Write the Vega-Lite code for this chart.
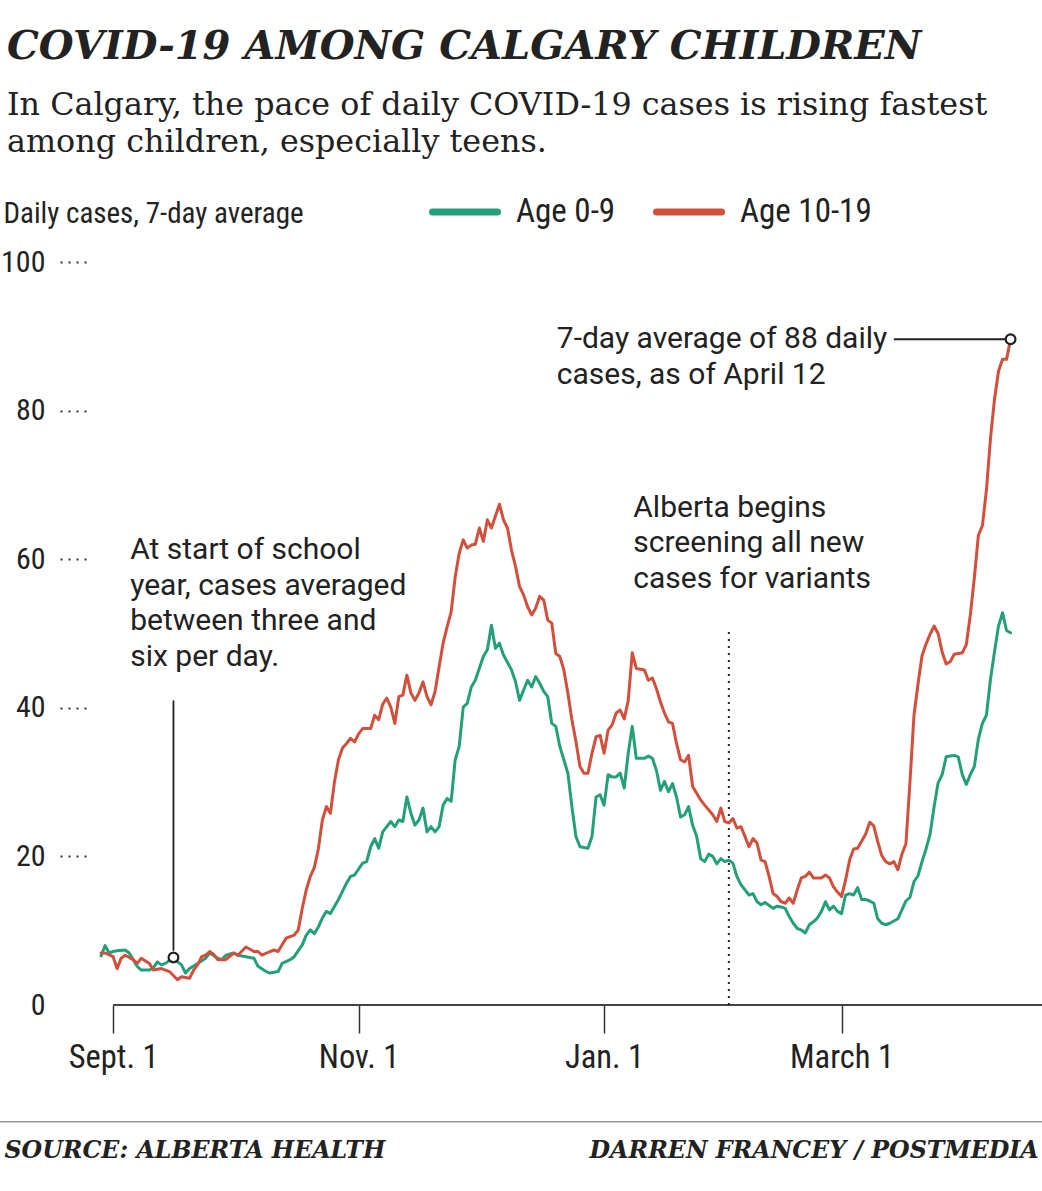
{
  "$schema": "https://vega.github.io/schema/vega-lite/v6.json",
  "autosize": "none",
  "padding": {"left": 97, "top": 262, "right": 0, "bottom": 186},
  "width": 945,
  "height": 743,
  "background": "white",
  "title": {
    "text": "COVID-19 AMONG CALGARY CHILDREN",
    "subtitle": ["In Calgary, the pace of daily COVID-19 cases is rising fastest", "among children, especially teens."],
    "anchor": "start",
    "frame": "group",
    "dx": -90,
    "offset": 17,
    "font": "DejaVu Serif",
    "fontStyle": "italic",
    "fontWeight": "bold",
    "fontSize": 40,
    "color": "#222222",
    "subtitleFont": "DejaVu Serif",
    "subtitleFontSize": 31.8,
    "subtitleColor": "#222222",
    "subtitleLineHeight": 37,
    "subtitlePadding": 23
  },
  "datasets": {
    "cases": [
      {"date": "2020-08-29", "group": "Age 0-9", "value": 6.6},
      {"date": "2020-08-30", "group": "Age 0-9", "value": 8.0},
      {"date": "2020-08-31", "group": "Age 0-9", "value": 7.0},
      {"date": "2020-09-01", "group": "Age 0-9", "value": 7.2},
      {"date": "2020-09-02", "group": "Age 0-9", "value": 7.3},
      {"date": "2020-09-04", "group": "Age 0-9", "value": 7.4},
      {"date": "2020-09-05", "group": "Age 0-9", "value": 7.0},
      {"date": "2020-09-07", "group": "Age 0-9", "value": 5.2},
      {"date": "2020-09-08", "group": "Age 0-9", "value": 4.7},
      {"date": "2020-09-10", "group": "Age 0-9", "value": 4.7},
      {"date": "2020-09-11", "group": "Age 0-9", "value": 5.0},
      {"date": "2020-09-12", "group": "Age 0-9", "value": 5.8},
      {"date": "2020-09-13", "group": "Age 0-9", "value": 5.4},
      {"date": "2020-09-14", "group": "Age 0-9", "value": 5.6},
      {"date": "2020-09-16", "group": "Age 0-9", "value": 6.4},
      {"date": "2020-09-17", "group": "Age 0-9", "value": 5.8},
      {"date": "2020-09-18", "group": "Age 0-9", "value": 5.4},
      {"date": "2020-09-19", "group": "Age 0-9", "value": 4.3},
      {"date": "2020-09-20", "group": "Age 0-9", "value": 4.9},
      {"date": "2020-09-22", "group": "Age 0-9", "value": 5.6},
      {"date": "2020-09-24", "group": "Age 0-9", "value": 6.3},
      {"date": "2020-09-25", "group": "Age 0-9", "value": 7.0},
      {"date": "2020-09-27", "group": "Age 0-9", "value": 6.3},
      {"date": "2020-09-28", "group": "Age 0-9", "value": 6.1},
      {"date": "2020-09-29", "group": "Age 0-9", "value": 6.7},
      {"date": "2020-10-01", "group": "Age 0-9", "value": 7.0},
      {"date": "2020-10-02", "group": "Age 0-9", "value": 6.7},
      {"date": "2020-10-04", "group": "Age 0-9", "value": 6.5},
      {"date": "2020-10-06", "group": "Age 0-9", "value": 6.3},
      {"date": "2020-10-07", "group": "Age 0-9", "value": 5.2},
      {"date": "2020-10-09", "group": "Age 0-9", "value": 4.5},
      {"date": "2020-10-10", "group": "Age 0-9", "value": 4.3},
      {"date": "2020-10-12", "group": "Age 0-9", "value": 4.5},
      {"date": "2020-10-13", "group": "Age 0-9", "value": 5.6},
      {"date": "2020-10-15", "group": "Age 0-9", "value": 6.1},
      {"date": "2020-10-16", "group": "Age 0-9", "value": 6.5},
      {"date": "2020-10-18", "group": "Age 0-9", "value": 8.1},
      {"date": "2020-10-19", "group": "Age 0-9", "value": 9.4},
      {"date": "2020-10-20", "group": "Age 0-9", "value": 10.1},
      {"date": "2020-10-21", "group": "Age 0-9", "value": 9.6},
      {"date": "2020-10-22", "group": "Age 0-9", "value": 10.5},
      {"date": "2020-10-23", "group": "Age 0-9", "value": 11.7},
      {"date": "2020-10-24", "group": "Age 0-9", "value": 12.6},
      {"date": "2020-10-25", "group": "Age 0-9", "value": 12.3},
      {"date": "2020-10-27", "group": "Age 0-9", "value": 14.2},
      {"date": "2020-10-28", "group": "Age 0-9", "value": 15.3},
      {"date": "2020-10-29", "group": "Age 0-9", "value": 16.4},
      {"date": "2020-10-30", "group": "Age 0-9", "value": 17.3},
      {"date": "2020-10-31", "group": "Age 0-9", "value": 17.5},
      {"date": "2020-11-02", "group": "Age 0-9", "value": 19.1},
      {"date": "2020-11-03", "group": "Age 0-9", "value": 19.3},
      {"date": "2020-11-04", "group": "Age 0-9", "value": 21.3},
      {"date": "2020-11-05", "group": "Age 0-9", "value": 22.4},
      {"date": "2020-11-06", "group": "Age 0-9", "value": 21.1},
      {"date": "2020-11-07", "group": "Age 0-9", "value": 23.3},
      {"date": "2020-11-09", "group": "Age 0-9", "value": 24.7},
      {"date": "2020-11-10", "group": "Age 0-9", "value": 24.0},
      {"date": "2020-11-11", "group": "Age 0-9", "value": 24.9},
      {"date": "2020-11-12", "group": "Age 0-9", "value": 24.7},
      {"date": "2020-11-13", "group": "Age 0-9", "value": 28.0},
      {"date": "2020-11-14", "group": "Age 0-9", "value": 25.8},
      {"date": "2020-11-15", "group": "Age 0-9", "value": 24.2},
      {"date": "2020-11-16", "group": "Age 0-9", "value": 24.9},
      {"date": "2020-11-17", "group": "Age 0-9", "value": 26.5},
      {"date": "2020-11-18", "group": "Age 0-9", "value": 23.3},
      {"date": "2020-11-19", "group": "Age 0-9", "value": 24.0},
      {"date": "2020-11-20", "group": "Age 0-9", "value": 23.3},
      {"date": "2020-11-21", "group": "Age 0-9", "value": 24.0},
      {"date": "2020-11-22", "group": "Age 0-9", "value": 26.9},
      {"date": "2020-11-23", "group": "Age 0-9", "value": 27.8},
      {"date": "2020-11-24", "group": "Age 0-9", "value": 27.4},
      {"date": "2020-11-25", "group": "Age 0-9", "value": 33.0},
      {"date": "2020-11-26", "group": "Age 0-9", "value": 34.8},
      {"date": "2020-11-27", "group": "Age 0-9", "value": 40.1},
      {"date": "2020-11-28", "group": "Age 0-9", "value": 40.6},
      {"date": "2020-11-29", "group": "Age 0-9", "value": 42.8},
      {"date": "2020-11-30", "group": "Age 0-9", "value": 43.7},
      {"date": "2020-12-02", "group": "Age 0-9", "value": 46.9},
      {"date": "2020-12-03", "group": "Age 0-9", "value": 47.8},
      {"date": "2020-12-04", "group": "Age 0-9", "value": 51.1},
      {"date": "2020-12-05", "group": "Age 0-9", "value": 48.0},
      {"date": "2020-12-06", "group": "Age 0-9", "value": 48.7},
      {"date": "2020-12-07", "group": "Age 0-9", "value": 47.1},
      {"date": "2020-12-09", "group": "Age 0-9", "value": 45.1},
      {"date": "2020-12-10", "group": "Age 0-9", "value": 43.5},
      {"date": "2020-12-11", "group": "Age 0-9", "value": 41.0},
      {"date": "2020-12-12", "group": "Age 0-9", "value": 42.4},
      {"date": "2020-12-13", "group": "Age 0-9", "value": 43.7},
      {"date": "2020-12-14", "group": "Age 0-9", "value": 42.8},
      {"date": "2020-12-15", "group": "Age 0-9", "value": 44.2},
      {"date": "2020-12-16", "group": "Age 0-9", "value": 43.3},
      {"date": "2020-12-17", "group": "Age 0-9", "value": 42.2},
      {"date": "2020-12-18", "group": "Age 0-9", "value": 41.5},
      {"date": "2020-12-19", "group": "Age 0-9", "value": 37.9},
      {"date": "2020-12-20", "group": "Age 0-9", "value": 37.5},
      {"date": "2020-12-21", "group": "Age 0-9", "value": 34.8},
      {"date": "2020-12-23", "group": "Age 0-9", "value": 31.2},
      {"date": "2020-12-24", "group": "Age 0-9", "value": 26.7},
      {"date": "2020-12-25", "group": "Age 0-9", "value": 22.7},
      {"date": "2020-12-26", "group": "Age 0-9", "value": 21.3},
      {"date": "2020-12-28", "group": "Age 0-9", "value": 21.1},
      {"date": "2020-12-29", "group": "Age 0-9", "value": 22.7},
      {"date": "2020-12-30", "group": "Age 0-9", "value": 28.0},
      {"date": "2020-12-31", "group": "Age 0-9", "value": 28.3},
      {"date": "2021-01-01", "group": "Age 0-9", "value": 26.9},
      {"date": "2021-01-02", "group": "Age 0-9", "value": 31.0},
      {"date": "2021-01-03", "group": "Age 0-9", "value": 30.7},
      {"date": "2021-01-04", "group": "Age 0-9", "value": 30.7},
      {"date": "2021-01-05", "group": "Age 0-9", "value": 31.2},
      {"date": "2021-01-06", "group": "Age 0-9", "value": 29.2},
      {"date": "2021-01-07", "group": "Age 0-9", "value": 33.9},
      {"date": "2021-01-08", "group": "Age 0-9", "value": 37.5},
      {"date": "2021-01-09", "group": "Age 0-9", "value": 33.2},
      {"date": "2021-01-11", "group": "Age 0-9", "value": 33.2},
      {"date": "2021-01-12", "group": "Age 0-9", "value": 33.5},
      {"date": "2021-01-13", "group": "Age 0-9", "value": 33.2},
      {"date": "2021-01-14", "group": "Age 0-9", "value": 31.6},
      {"date": "2021-01-15", "group": "Age 0-9", "value": 28.9},
      {"date": "2021-01-16", "group": "Age 0-9", "value": 30.1},
      {"date": "2021-01-17", "group": "Age 0-9", "value": 28.7},
      {"date": "2021-01-18", "group": "Age 0-9", "value": 29.8},
      {"date": "2021-01-19", "group": "Age 0-9", "value": 28.0},
      {"date": "2021-01-20", "group": "Age 0-9", "value": 25.3},
      {"date": "2021-01-21", "group": "Age 0-9", "value": 25.6},
      {"date": "2021-01-22", "group": "Age 0-9", "value": 26.7},
      {"date": "2021-01-23", "group": "Age 0-9", "value": 24.2},
      {"date": "2021-01-24", "group": "Age 0-9", "value": 22.7},
      {"date": "2021-01-25", "group": "Age 0-9", "value": 19.7},
      {"date": "2021-01-26", "group": "Age 0-9", "value": 19.3},
      {"date": "2021-01-27", "group": "Age 0-9", "value": 20.3},
      {"date": "2021-01-28", "group": "Age 0-9", "value": 20.0},
      {"date": "2021-01-29", "group": "Age 0-9", "value": 19.0},
      {"date": "2021-01-30", "group": "Age 0-9", "value": 19.7},
      {"date": "2021-01-31", "group": "Age 0-9", "value": 19.3},
      {"date": "2021-02-01", "group": "Age 0-9", "value": 19.5},
      {"date": "2021-02-02", "group": "Age 0-9", "value": 19.1},
      {"date": "2021-02-03", "group": "Age 0-9", "value": 17.3},
      {"date": "2021-02-04", "group": "Age 0-9", "value": 16.2},
      {"date": "2021-02-06", "group": "Age 0-9", "value": 14.8},
      {"date": "2021-02-07", "group": "Age 0-9", "value": 15.0},
      {"date": "2021-02-08", "group": "Age 0-9", "value": 13.9},
      {"date": "2021-02-09", "group": "Age 0-9", "value": 13.5},
      {"date": "2021-02-10", "group": "Age 0-9", "value": 13.8},
      {"date": "2021-02-12", "group": "Age 0-9", "value": 13.0},
      {"date": "2021-02-13", "group": "Age 0-9", "value": 13.3},
      {"date": "2021-02-14", "group": "Age 0-9", "value": 13.2},
      {"date": "2021-02-15", "group": "Age 0-9", "value": 13.0},
      {"date": "2021-02-16", "group": "Age 0-9", "value": 11.9},
      {"date": "2021-02-17", "group": "Age 0-9", "value": 11.0},
      {"date": "2021-02-18", "group": "Age 0-9", "value": 10.3},
      {"date": "2021-02-19", "group": "Age 0-9", "value": 10.1},
      {"date": "2021-02-20", "group": "Age 0-9", "value": 9.7},
      {"date": "2021-02-21", "group": "Age 0-9", "value": 10.8},
      {"date": "2021-02-22", "group": "Age 0-9", "value": 11.2},
      {"date": "2021-02-23", "group": "Age 0-9", "value": 11.7},
      {"date": "2021-02-24", "group": "Age 0-9", "value": 12.6},
      {"date": "2021-02-25", "group": "Age 0-9", "value": 13.9},
      {"date": "2021-02-26", "group": "Age 0-9", "value": 12.8},
      {"date": "2021-02-27", "group": "Age 0-9", "value": 13.3},
      {"date": "2021-02-28", "group": "Age 0-9", "value": 12.6},
      {"date": "2021-03-01", "group": "Age 0-9", "value": 12.3},
      {"date": "2021-03-02", "group": "Age 0-9", "value": 14.8},
      {"date": "2021-03-03", "group": "Age 0-9", "value": 15.0},
      {"date": "2021-03-04", "group": "Age 0-9", "value": 14.8},
      {"date": "2021-03-05", "group": "Age 0-9", "value": 15.8},
      {"date": "2021-03-06", "group": "Age 0-9", "value": 14.2},
      {"date": "2021-03-07", "group": "Age 0-9", "value": 14.2},
      {"date": "2021-03-08", "group": "Age 0-9", "value": 14.0},
      {"date": "2021-03-09", "group": "Age 0-9", "value": 13.7},
      {"date": "2021-03-10", "group": "Age 0-9", "value": 11.6},
      {"date": "2021-03-11", "group": "Age 0-9", "value": 11.0},
      {"date": "2021-03-12", "group": "Age 0-9", "value": 10.8},
      {"date": "2021-03-13", "group": "Age 0-9", "value": 11.0},
      {"date": "2021-03-14", "group": "Age 0-9", "value": 11.3},
      {"date": "2021-03-15", "group": "Age 0-9", "value": 11.6},
      {"date": "2021-03-17", "group": "Age 0-9", "value": 14.0},
      {"date": "2021-03-18", "group": "Age 0-9", "value": 14.5},
      {"date": "2021-03-19", "group": "Age 0-9", "value": 16.6},
      {"date": "2021-03-20", "group": "Age 0-9", "value": 17.4},
      {"date": "2021-03-21", "group": "Age 0-9", "value": 19.3},
      {"date": "2021-03-22", "group": "Age 0-9", "value": 21.0},
      {"date": "2021-03-23", "group": "Age 0-9", "value": 23.0},
      {"date": "2021-03-24", "group": "Age 0-9", "value": 26.7},
      {"date": "2021-03-25", "group": "Age 0-9", "value": 29.9},
      {"date": "2021-03-26", "group": "Age 0-9", "value": 31.0},
      {"date": "2021-03-27", "group": "Age 0-9", "value": 33.4},
      {"date": "2021-03-28", "group": "Age 0-9", "value": 33.5},
      {"date": "2021-03-29", "group": "Age 0-9", "value": 33.6},
      {"date": "2021-03-30", "group": "Age 0-9", "value": 33.4},
      {"date": "2021-03-31", "group": "Age 0-9", "value": 31.0},
      {"date": "2021-04-01", "group": "Age 0-9", "value": 29.7},
      {"date": "2021-04-02", "group": "Age 0-9", "value": 31.0},
      {"date": "2021-04-03", "group": "Age 0-9", "value": 32.1},
      {"date": "2021-04-04", "group": "Age 0-9", "value": 35.8},
      {"date": "2021-04-05", "group": "Age 0-9", "value": 37.9},
      {"date": "2021-04-06", "group": "Age 0-9", "value": 39.0},
      {"date": "2021-04-07", "group": "Age 0-9", "value": 43.8},
      {"date": "2021-04-08", "group": "Age 0-9", "value": 47.5},
      {"date": "2021-04-09", "group": "Age 0-9", "value": 51.0},
      {"date": "2021-04-10", "group": "Age 0-9", "value": 52.8},
      {"date": "2021-04-11", "group": "Age 0-9", "value": 50.4},
      {"date": "2021-04-12", "group": "Age 0-9", "value": 50.1},

      {"date": "2020-08-29", "group": "Age 10-19", "value": 7.0},
      {"date": "2020-08-30", "group": "Age 10-19", "value": 7.0},
      {"date": "2020-09-01", "group": "Age 10-19", "value": 6.5},
      {"date": "2020-09-02", "group": "Age 10-19", "value": 4.9},
      {"date": "2020-09-03", "group": "Age 10-19", "value": 6.3},
      {"date": "2020-09-04", "group": "Age 10-19", "value": 6.7},
      {"date": "2020-09-06", "group": "Age 10-19", "value": 6.1},
      {"date": "2020-09-07", "group": "Age 10-19", "value": 5.6},
      {"date": "2020-09-08", "group": "Age 10-19", "value": 6.3},
      {"date": "2020-09-10", "group": "Age 10-19", "value": 5.6},
      {"date": "2020-09-11", "group": "Age 10-19", "value": 4.7},
      {"date": "2020-09-13", "group": "Age 10-19", "value": 4.9},
      {"date": "2020-09-15", "group": "Age 10-19", "value": 4.5},
      {"date": "2020-09-17", "group": "Age 10-19", "value": 3.4},
      {"date": "2020-09-18", "group": "Age 10-19", "value": 3.8},
      {"date": "2020-09-20", "group": "Age 10-19", "value": 3.6},
      {"date": "2020-09-21", "group": "Age 10-19", "value": 4.7},
      {"date": "2020-09-22", "group": "Age 10-19", "value": 5.4},
      {"date": "2020-09-23", "group": "Age 10-19", "value": 6.5},
      {"date": "2020-09-24", "group": "Age 10-19", "value": 6.7},
      {"date": "2020-09-25", "group": "Age 10-19", "value": 7.2},
      {"date": "2020-09-26", "group": "Age 10-19", "value": 6.8},
      {"date": "2020-09-27", "group": "Age 10-19", "value": 6.1},
      {"date": "2020-09-29", "group": "Age 10-19", "value": 6.1},
      {"date": "2020-10-01", "group": "Age 10-19", "value": 7.0},
      {"date": "2020-10-02", "group": "Age 10-19", "value": 6.7},
      {"date": "2020-10-04", "group": "Age 10-19", "value": 7.8},
      {"date": "2020-10-06", "group": "Age 10-19", "value": 7.2},
      {"date": "2020-10-07", "group": "Age 10-19", "value": 7.2},
      {"date": "2020-10-08", "group": "Age 10-19", "value": 6.7},
      {"date": "2020-10-10", "group": "Age 10-19", "value": 7.2},
      {"date": "2020-10-11", "group": "Age 10-19", "value": 7.4},
      {"date": "2020-10-12", "group": "Age 10-19", "value": 7.2},
      {"date": "2020-10-13", "group": "Age 10-19", "value": 8.1},
      {"date": "2020-10-14", "group": "Age 10-19", "value": 9.0},
      {"date": "2020-10-16", "group": "Age 10-19", "value": 9.4},
      {"date": "2020-10-17", "group": "Age 10-19", "value": 10.1},
      {"date": "2020-10-18", "group": "Age 10-19", "value": 13.0},
      {"date": "2020-10-19", "group": "Age 10-19", "value": 15.5},
      {"date": "2020-10-20", "group": "Age 10-19", "value": 17.3},
      {"date": "2020-10-21", "group": "Age 10-19", "value": 18.5},
      {"date": "2020-10-22", "group": "Age 10-19", "value": 21.0},
      {"date": "2020-10-23", "group": "Age 10-19", "value": 24.9},
      {"date": "2020-10-24", "group": "Age 10-19", "value": 26.7},
      {"date": "2020-10-25", "group": "Age 10-19", "value": 25.8},
      {"date": "2020-10-26", "group": "Age 10-19", "value": 30.0},
      {"date": "2020-10-27", "group": "Age 10-19", "value": 33.0},
      {"date": "2020-10-28", "group": "Age 10-19", "value": 34.6},
      {"date": "2020-10-29", "group": "Age 10-19", "value": 35.2},
      {"date": "2020-10-30", "group": "Age 10-19", "value": 35.9},
      {"date": "2020-10-31", "group": "Age 10-19", "value": 35.4},
      {"date": "2020-11-01", "group": "Age 10-19", "value": 36.5},
      {"date": "2020-11-02", "group": "Age 10-19", "value": 37.2},
      {"date": "2020-11-03", "group": "Age 10-19", "value": 37.2},
      {"date": "2020-11-04", "group": "Age 10-19", "value": 37.2},
      {"date": "2020-11-05", "group": "Age 10-19", "value": 39.0},
      {"date": "2020-11-06", "group": "Age 10-19", "value": 38.4},
      {"date": "2020-11-07", "group": "Age 10-19", "value": 40.5},
      {"date": "2020-11-08", "group": "Age 10-19", "value": 41.3},
      {"date": "2020-11-09", "group": "Age 10-19", "value": 40.1},
      {"date": "2020-11-10", "group": "Age 10-19", "value": 37.9},
      {"date": "2020-11-11", "group": "Age 10-19", "value": 41.5},
      {"date": "2020-11-12", "group": "Age 10-19", "value": 41.7},
      {"date": "2020-11-13", "group": "Age 10-19", "value": 44.4},
      {"date": "2020-11-14", "group": "Age 10-19", "value": 42.0},
      {"date": "2020-11-15", "group": "Age 10-19", "value": 41.0},
      {"date": "2020-11-16", "group": "Age 10-19", "value": 42.0},
      {"date": "2020-11-17", "group": "Age 10-19", "value": 43.5},
      {"date": "2020-11-18", "group": "Age 10-19", "value": 41.5},
      {"date": "2020-11-19", "group": "Age 10-19", "value": 40.4},
      {"date": "2020-11-20", "group": "Age 10-19", "value": 42.2},
      {"date": "2020-11-21", "group": "Age 10-19", "value": 45.5},
      {"date": "2020-11-22", "group": "Age 10-19", "value": 48.7},
      {"date": "2020-11-23", "group": "Age 10-19", "value": 50.9},
      {"date": "2020-11-24", "group": "Age 10-19", "value": 52.9},
      {"date": "2020-11-25", "group": "Age 10-19", "value": 57.6},
      {"date": "2020-11-26", "group": "Age 10-19", "value": 60.8},
      {"date": "2020-11-27", "group": "Age 10-19", "value": 62.6},
      {"date": "2020-11-28", "group": "Age 10-19", "value": 61.5},
      {"date": "2020-11-29", "group": "Age 10-19", "value": 61.9},
      {"date": "2020-11-30", "group": "Age 10-19", "value": 62.0},
      {"date": "2020-12-01", "group": "Age 10-19", "value": 64.2},
      {"date": "2020-12-02", "group": "Age 10-19", "value": 62.4},
      {"date": "2020-12-03", "group": "Age 10-19", "value": 65.3},
      {"date": "2020-12-04", "group": "Age 10-19", "value": 64.2},
      {"date": "2020-12-06", "group": "Age 10-19", "value": 67.4},
      {"date": "2020-12-07", "group": "Age 10-19", "value": 65.3},
      {"date": "2020-12-08", "group": "Age 10-19", "value": 64.2},
      {"date": "2020-12-09", "group": "Age 10-19", "value": 61.2},
      {"date": "2020-12-10", "group": "Age 10-19", "value": 59.0},
      {"date": "2020-12-11", "group": "Age 10-19", "value": 56.3},
      {"date": "2020-12-12", "group": "Age 10-19", "value": 55.2},
      {"date": "2020-12-13", "group": "Age 10-19", "value": 53.6},
      {"date": "2020-12-14", "group": "Age 10-19", "value": 52.5},
      {"date": "2020-12-15", "group": "Age 10-19", "value": 53.4},
      {"date": "2020-12-16", "group": "Age 10-19", "value": 55.0},
      {"date": "2020-12-17", "group": "Age 10-19", "value": 54.5},
      {"date": "2020-12-18", "group": "Age 10-19", "value": 51.8},
      {"date": "2020-12-19", "group": "Age 10-19", "value": 51.4},
      {"date": "2020-12-20", "group": "Age 10-19", "value": 47.3},
      {"date": "2020-12-21", "group": "Age 10-19", "value": 46.9},
      {"date": "2020-12-22", "group": "Age 10-19", "value": 45.1},
      {"date": "2020-12-23", "group": "Age 10-19", "value": 42.0},
      {"date": "2020-12-24", "group": "Age 10-19", "value": 38.4},
      {"date": "2020-12-25", "group": "Age 10-19", "value": 35.5},
      {"date": "2020-12-26", "group": "Age 10-19", "value": 32.1},
      {"date": "2020-12-27", "group": "Age 10-19", "value": 31.2},
      {"date": "2020-12-28", "group": "Age 10-19", "value": 31.2},
      {"date": "2020-12-29", "group": "Age 10-19", "value": 33.9},
      {"date": "2020-12-30", "group": "Age 10-19", "value": 36.1},
      {"date": "2020-12-31", "group": "Age 10-19", "value": 36.3},
      {"date": "2021-01-01", "group": "Age 10-19", "value": 33.9},
      {"date": "2021-01-02", "group": "Age 10-19", "value": 37.0},
      {"date": "2021-01-03", "group": "Age 10-19", "value": 37.7},
      {"date": "2021-01-04", "group": "Age 10-19", "value": 39.3},
      {"date": "2021-01-05", "group": "Age 10-19", "value": 39.7},
      {"date": "2021-01-06", "group": "Age 10-19", "value": 38.5},
      {"date": "2021-01-07", "group": "Age 10-19", "value": 41.0},
      {"date": "2021-01-08", "group": "Age 10-19", "value": 47.4},
      {"date": "2021-01-09", "group": "Age 10-19", "value": 45.3},
      {"date": "2021-01-10", "group": "Age 10-19", "value": 45.2},
      {"date": "2021-01-11", "group": "Age 10-19", "value": 45.1},
      {"date": "2021-01-12", "group": "Age 10-19", "value": 43.7},
      {"date": "2021-01-13", "group": "Age 10-19", "value": 44.0},
      {"date": "2021-01-14", "group": "Age 10-19", "value": 42.6},
      {"date": "2021-01-15", "group": "Age 10-19", "value": 40.8},
      {"date": "2021-01-16", "group": "Age 10-19", "value": 39.3},
      {"date": "2021-01-17", "group": "Age 10-19", "value": 38.1},
      {"date": "2021-01-18", "group": "Age 10-19", "value": 37.9},
      {"date": "2021-01-19", "group": "Age 10-19", "value": 35.2},
      {"date": "2021-01-20", "group": "Age 10-19", "value": 33.0},
      {"date": "2021-01-21", "group": "Age 10-19", "value": 32.7},
      {"date": "2021-01-22", "group": "Age 10-19", "value": 33.6},
      {"date": "2021-01-23", "group": "Age 10-19", "value": 29.4},
      {"date": "2021-01-24", "group": "Age 10-19", "value": 28.5},
      {"date": "2021-01-25", "group": "Age 10-19", "value": 27.6},
      {"date": "2021-01-26", "group": "Age 10-19", "value": 26.9},
      {"date": "2021-01-28", "group": "Age 10-19", "value": 25.6},
      {"date": "2021-01-29", "group": "Age 10-19", "value": 24.7},
      {"date": "2021-01-30", "group": "Age 10-19", "value": 26.5},
      {"date": "2021-01-31", "group": "Age 10-19", "value": 24.7},
      {"date": "2021-02-01", "group": "Age 10-19", "value": 24.5},
      {"date": "2021-02-02", "group": "Age 10-19", "value": 25.1},
      {"date": "2021-02-03", "group": "Age 10-19", "value": 23.8},
      {"date": "2021-02-04", "group": "Age 10-19", "value": 24.0},
      {"date": "2021-02-05", "group": "Age 10-19", "value": 22.7},
      {"date": "2021-02-06", "group": "Age 10-19", "value": 21.3},
      {"date": "2021-02-07", "group": "Age 10-19", "value": 22.4},
      {"date": "2021-02-08", "group": "Age 10-19", "value": 21.8},
      {"date": "2021-02-09", "group": "Age 10-19", "value": 19.5},
      {"date": "2021-02-10", "group": "Age 10-19", "value": 19.3},
      {"date": "2021-02-11", "group": "Age 10-19", "value": 17.3},
      {"date": "2021-02-12", "group": "Age 10-19", "value": 15.0},
      {"date": "2021-02-13", "group": "Age 10-19", "value": 14.6},
      {"date": "2021-02-14", "group": "Age 10-19", "value": 13.9},
      {"date": "2021-02-15", "group": "Age 10-19", "value": 13.7},
      {"date": "2021-02-16", "group": "Age 10-19", "value": 14.4},
      {"date": "2021-02-17", "group": "Age 10-19", "value": 13.7},
      {"date": "2021-02-18", "group": "Age 10-19", "value": 15.5},
      {"date": "2021-02-19", "group": "Age 10-19", "value": 17.1},
      {"date": "2021-02-20", "group": "Age 10-19", "value": 17.3},
      {"date": "2021-02-21", "group": "Age 10-19", "value": 17.9},
      {"date": "2021-02-22", "group": "Age 10-19", "value": 17.1},
      {"date": "2021-02-24", "group": "Age 10-19", "value": 17.1},
      {"date": "2021-02-25", "group": "Age 10-19", "value": 17.5},
      {"date": "2021-02-26", "group": "Age 10-19", "value": 17.1},
      {"date": "2021-02-27", "group": "Age 10-19", "value": 15.9},
      {"date": "2021-02-28", "group": "Age 10-19", "value": 15.2},
      {"date": "2021-03-01", "group": "Age 10-19", "value": 14.6},
      {"date": "2021-03-02", "group": "Age 10-19", "value": 16.8},
      {"date": "2021-03-03", "group": "Age 10-19", "value": 19.5},
      {"date": "2021-03-04", "group": "Age 10-19", "value": 21.0},
      {"date": "2021-03-05", "group": "Age 10-19", "value": 21.1},
      {"date": "2021-03-07", "group": "Age 10-19", "value": 23.0},
      {"date": "2021-03-08", "group": "Age 10-19", "value": 24.6},
      {"date": "2021-03-09", "group": "Age 10-19", "value": 24.1},
      {"date": "2021-03-10", "group": "Age 10-19", "value": 22.0},
      {"date": "2021-03-11", "group": "Age 10-19", "value": 20.1},
      {"date": "2021-03-12", "group": "Age 10-19", "value": 19.3},
      {"date": "2021-03-13", "group": "Age 10-19", "value": 19.0},
      {"date": "2021-03-14", "group": "Age 10-19", "value": 19.3},
      {"date": "2021-03-15", "group": "Age 10-19", "value": 18.2},
      {"date": "2021-03-16", "group": "Age 10-19", "value": 20.3},
      {"date": "2021-03-17", "group": "Age 10-19", "value": 21.7},
      {"date": "2021-03-18", "group": "Age 10-19", "value": 30.0},
      {"date": "2021-03-19", "group": "Age 10-19", "value": 39.0},
      {"date": "2021-03-20", "group": "Age 10-19", "value": 43.2},
      {"date": "2021-03-21", "group": "Age 10-19", "value": 47.0},
      {"date": "2021-03-22", "group": "Age 10-19", "value": 48.6},
      {"date": "2021-03-23", "group": "Age 10-19", "value": 49.9},
      {"date": "2021-03-24", "group": "Age 10-19", "value": 51.0},
      {"date": "2021-03-25", "group": "Age 10-19", "value": 50.0},
      {"date": "2021-03-26", "group": "Age 10-19", "value": 47.5},
      {"date": "2021-03-27", "group": "Age 10-19", "value": 45.9},
      {"date": "2021-03-28", "group": "Age 10-19", "value": 46.2},
      {"date": "2021-03-29", "group": "Age 10-19", "value": 47.2},
      {"date": "2021-03-30", "group": "Age 10-19", "value": 47.3},
      {"date": "2021-03-31", "group": "Age 10-19", "value": 47.4},
      {"date": "2021-04-01", "group": "Age 10-19", "value": 48.5},
      {"date": "2021-04-02", "group": "Age 10-19", "value": 52.5},
      {"date": "2021-04-03", "group": "Age 10-19", "value": 57.5},
      {"date": "2021-04-04", "group": "Age 10-19", "value": 63.2},
      {"date": "2021-04-05", "group": "Age 10-19", "value": 64.5},
      {"date": "2021-04-06", "group": "Age 10-19", "value": 69.3},
      {"date": "2021-04-07", "group": "Age 10-19", "value": 76.2},
      {"date": "2021-04-08", "group": "Age 10-19", "value": 81.5},
      {"date": "2021-04-09", "group": "Age 10-19", "value": 85.3},
      {"date": "2021-04-10", "group": "Age 10-19", "value": 86.9},
      {"date": "2021-04-11", "group": "Age 10-19", "value": 86.9},
      {"date": "2021-04-12", "group": "Age 10-19", "value": 89.6}
    ],
    "baseline": [{"date": "2020-09-01", "date2": "2021-04-22", "value": 0}],
    "screening": [{"date": "2021-02-01", "value": 0, "value2": 50.5}],
    "leaders": [
      {"date": "2020-09-16", "date2": "2020-09-16", "value": 7.3, "value2": 41.0},
      {"date": "2021-03-14", "date2": "2021-04-11", "value": 89.6, "value2": 89.6}
    ],
    "markers": [
      {"date": "2020-09-16", "value": 6.4},
      {"date": "2021-04-12", "value": 89.6}
    ],
    "notes": [
      {"date": "2020-09-05", "value": 60.0, "lines": ["At start of school", "year, cases averaged", "between three and", "six per day."]},
      {"date": "2021-01-08", "value": 65.7, "lines": ["Alberta begins", "screening all new", "cases for variants"]},
      {"date": "2020-12-20", "value": 88.4, "lines": ["7-day average of 88 daily", "cases, as of April 12"]}
    ],
    "separator": [{"date": "2020-08-01", "date2": "2021-04-22", "value": -15.7}],
    "sourceLeft": [{"date": "2020-08-05", "value": -20.6, "label": "SOURCE: ALBERTA HEALTH"}],
    "sourceRight": [{"date": "2021-04-19", "value": -20.6, "label": "DARREN FRANCEY / POSTMEDIA"}]
  },
  "encoding": {
    "x": {
      "field": "date",
      "type": "temporal",
      "scale": {"type": "utc", "domain": [1598572800000, 1618860384000], "nice": false},
      "axis": {
        "values": [1598918400000, 1604188800000, 1609459200000, 1614556800000],
        "labelExpr": "utcmonth(datum.value) == 8 ? 'Sept. 1' : utcmonth(datum.value) == 10 ? 'Nov. 1' : utcmonth(datum.value) == 0 ? 'Jan. 1' : 'March 1'",
        "domain": false,
        "grid": false,
        "tickSize": 28,
        "tickWidth": 1.5,
        "tickColor": "#333333",
        "labelFont": "Roboto Condensed, Roboto",
        "labelFontSize": 32.5,
        "labelColor": "#222222",
        "labelPadding": 8,
        "labelFlush": false,
        "labelOverlap": false,
        "title": null
      }
    },
    "y": {
      "field": "value",
      "type": "quantitative",
      "scale": {"domain": [0, 100], "nice": false, "zero": false},
      "axis": {
        "values": [0, 20, 40, 60, 80, 100],
        "domain": false,
        "grid": false,
        "offset": 11,
        "tickSize": 26,
        "tickWidth": 2,
        "tickDash": [2, 6],
        "tickColor": "#333333",
        "tickOpacity": {"expr": "datum.value === 0 ? 0 : 1"},
        "labelFont": "Roboto Condensed, Roboto",
        "labelFontSize": 30,
        "labelColor": "#222222",
        "labelPadding": 15,
        "title": "Daily cases, 7-day average",
        "titleFont": "Roboto Condensed, Roboto",
        "titleFontSize": 29,
        "titleFontWeight": "normal",
        "titleColor": "#222222",
        "titleAngle": 0,
        "titleAlign": "left",
        "titleBaseline": "alphabetic",
        "titleX": -83,
        "titleY": -40
      }
    }
  },
  "layer": [
    {
      "data": {"name": "baseline"},
      "mark": {"type": "rule", "color": "#444444", "strokeWidth": 2},
      "encoding": {"x2": {"field": "date2"}}
    },
    {
      "data": {"name": "screening"},
      "mark": {"type": "rule", "color": "#222222", "strokeWidth": 2, "strokeDash": [2, 5]},
      "encoding": {"y2": {"field": "value2"}}
    },
    {
      "data": {"name": "cases"},
      "mark": {"type": "line", "strokeWidth": 3, "strokeJoin": "round", "strokeCap": "round"},
      "encoding": {
        "color": {
          "field": "group",
          "type": "nominal",
          "scale": {"domain": ["Age 0-9", "Age 10-19"], "range": ["#23a07a", "#d14f3b"]},
          "legend": {
            "orient": "none",
            "legendX": 332,
            "legendY": -86,
            "direction": "horizontal",
            "title": null,
            "padding": 0,
            "symbolType": "stroke",
            "symbolSize": 4225,
            "symbolStrokeWidth": 7,
            "labelFont": "Roboto Condensed, Roboto",
            "labelFontSize": 33,
            "labelColor": "#222222",
            "labelOffset": 15,
            "columnPadding": 26,
            "encode": {
              "symbols": {
                "update": {
                  "stroke": {"signal": "datum.value === 'Age 0-9' ? '#12a552' : '#b65a4f'"},
                  "strokeCap": {"value": "round"}
                }
              }
            }
          }
        }
      }
    },
    {
      "data": {"name": "leaders"},
      "mark": {"type": "rule", "color": "#222222", "strokeWidth": 1.8},
      "encoding": {"x2": {"field": "date2"}, "y2": {"field": "value2"}}
    },
    {
      "data": {"name": "markers"},
      "mark": {"type": "point", "shape": "circle", "size": 95, "filled": false, "fill": "white", "fillOpacity": 1, "stroke": "#222222", "strokeWidth": 2.2, "opacity": 1}
    },
    {
      "data": {"name": "notes"},
      "mark": {"type": "text", "align": "left", "baseline": "alphabetic", "font": "Roboto", "fontSize": 30, "lineHeight": 35.5, "color": "#222222", "dx": 1},
      "encoding": {"text": {"field": "lines"}}
    },
    {
      "data": {"name": "separator"},
      "mark": {"type": "rule", "color": "#999999", "strokeWidth": 1.5},
      "encoding": {"x2": {"field": "date2"}}
    },
    {
      "data": {"name": "sourceLeft"},
      "mark": {"type": "text", "align": "left", "baseline": "alphabetic", "font": "DejaVu Serif", "fontStyle": "italic", "fontWeight": "bold", "fontSize": 23.7, "color": "#222222"},
      "encoding": {"text": {"field": "label"}}
    },
    {
      "data": {"name": "sourceRight"},
      "mark": {"type": "text", "align": "right", "baseline": "alphabetic", "font": "DejaVu Serif", "fontStyle": "italic", "fontWeight": "bold", "fontSize": 23.7, "color": "#222222"},
      "encoding": {"text": {"field": "label"}}
    }
  ],
  "config": {
    "view": {"stroke": null},
    "font": "Roboto"
  }
}
